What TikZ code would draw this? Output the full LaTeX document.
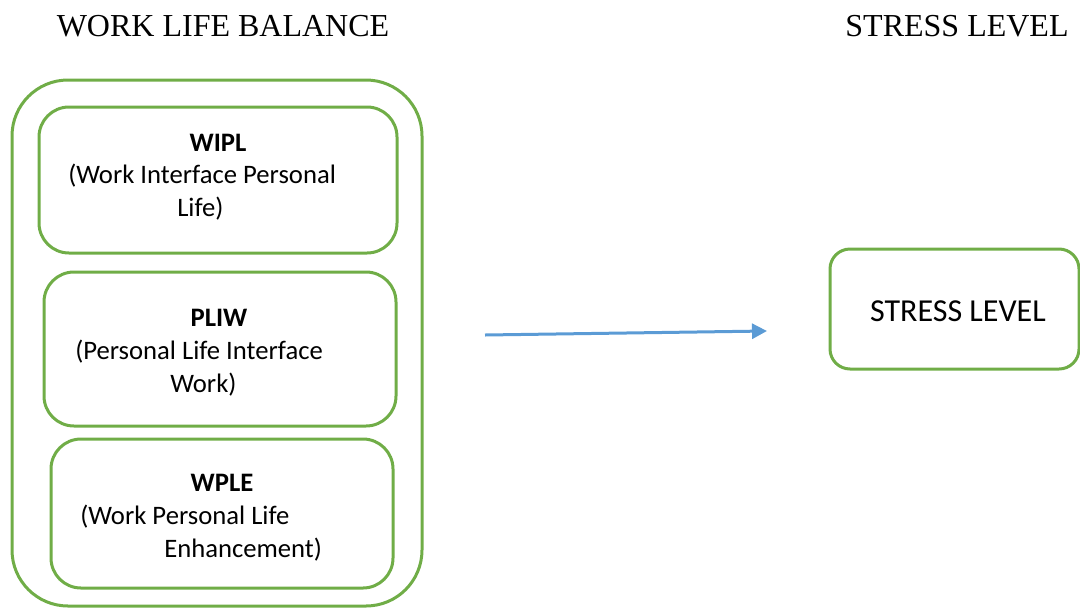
\documentclass[tikz,border=0pt]{standalone}
\usepackage{fontspec}
\setmainfont{Liberation Serif}
\newfontfamily\calfont{Carlito}
\usetikzlibrary{arrows.meta}
\definecolor{grn}{HTML}{70AD47}
\definecolor{blu}{HTML}{5B9BD5}
\tikzset{
  gbox/.style={draw=grn, line width=2.25pt, inner sep=0pt, rounded corners=22.5pt},
  ttl/.style={font=\fontsize{24}{28}\selectfont, inner sep=0pt},
  txt/.style={font=\calfont\fontsize{20}{24}\selectfont, inner sep=0pt},
  hdr/.style={font=\calfont\bfseries\fontsize{20}{24}\selectfont, inner sep=0pt, anchor=base},
}
\begin{document}
\begin{tikzpicture}[x=0.75pt,y=-0.75pt]
\useasboundingbox (0,0) rectangle (1080,607);
% titles
\node[ttl, anchor=base] (t1) at (223,36) {WORK LIFE BALANCE};
\node[ttl, anchor=base] (t2) at (957,36) {STRESS LEVEL};
% outer box
\node[gbox, rounded corners=42pt, minimum width=410*0.75pt, minimum height=526*0.75pt] (outer) at (217,343) {};
% inner boxes
\node[gbox, minimum width=358*0.75pt, minimum height=146*0.75pt] (b1) at (218,180) {};
\node[gbox, minimum width=352*0.75pt, minimum height=154*0.75pt] (b2) at (220,349) {};
\node[gbox, minimum width=342*0.75pt, minimum height=149*0.75pt] (b3) at (222,513.5) {};
% stress box
\node[gbox, rounded corners=15pt, minimum width=249*0.75pt, minimum height=120*0.75pt] (sb) at (954.5,309) {};
% texts box 1
\node[hdr] (h1) at (218,151) {WIPL};
\node[txt, anchor=base west] (l11) at (68,183) {(Work Interface Personal};
\node[txt, anchor=base west] (l12) at (177,216) {Life)};
% texts box 2
\node[hdr] (h2) at (219,326) {PLIW};
\node[txt, anchor=base west] (l21) at (75,359) {(Personal Life Interface};
\node[txt, anchor=base west] (l22) at (170,392) {Work)};
% texts box 3
\node[hdr] (h3) at (222,491) {WPLE};
\node[txt, anchor=base west] (l31) at (80,524) {(Work Personal Life};
\node[txt, anchor=base west] (l32) at (164,557) {Enhancement)};
% stress text
\node[txt, font=\calfont\fontsize{24}{28}\selectfont, anchor=base] (st) at (958,321) {STRESS LEVEL};
% arrow
\coordinate (as) at (485,335);
\coordinate (ae) at (767,331);
\draw[blu, line width=2.25pt, -{Triangle[length=11.25pt,width=11.25pt]}] (as) -- (ae);
\end{tikzpicture}
\end{document}
